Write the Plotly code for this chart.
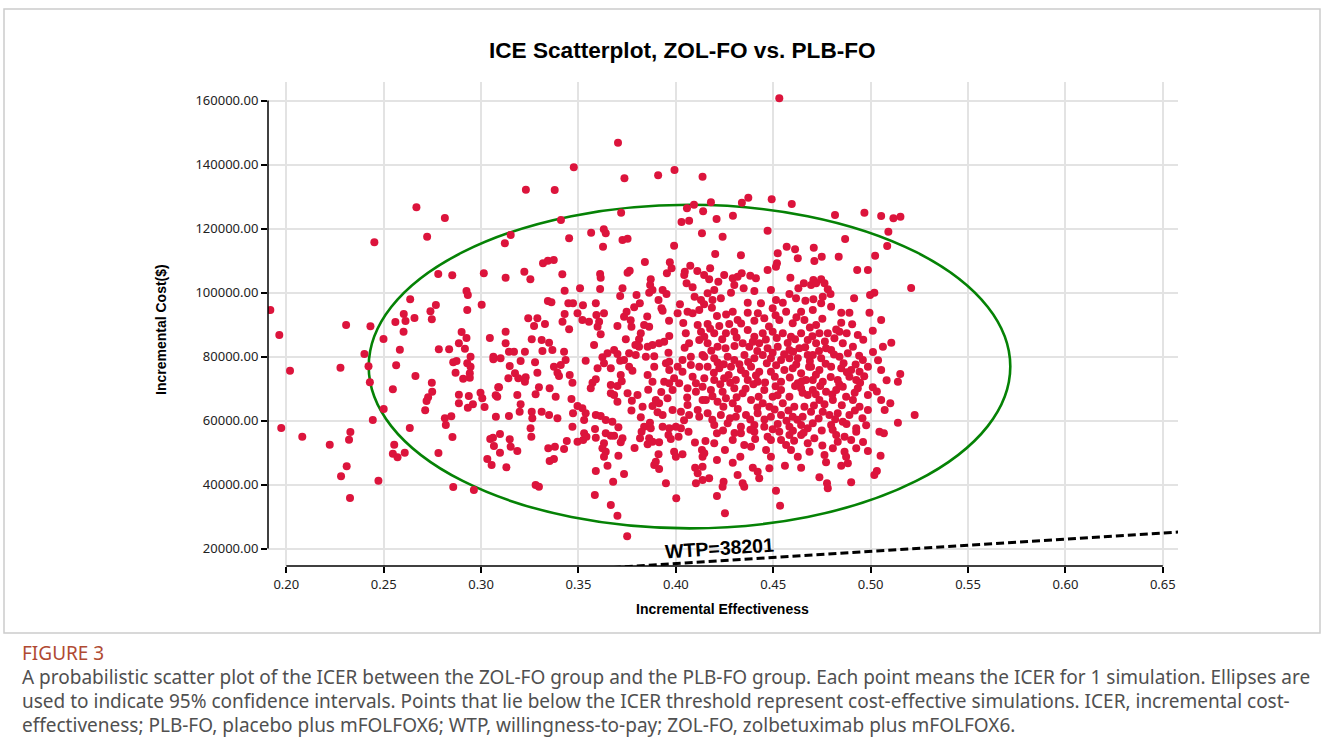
import plotly.graph_objects as go

# ---------------- data ----------------
chart_title = "ICE Scatterplot, ZOL-FO vs. PLB-FO"
x_title = "Incremental Effectiveness"
y_title = "Incremental Cost($)"
x_ticks = [0.20, 0.25, 0.30, 0.35, 0.40, 0.45, 0.50, 0.55, 0.60, 0.65]
y_ticks = [20000, 40000, 60000, 80000, 100000, 120000, 140000, 160000]
wtp = 38201
wtp_label = "WTP=38201"
wtp_eff_span = [0.30, 0.70]
ellipse_eff = [0.2423, 0.5717]
ellipse_cost = [26300, 127400]

eff_a = [0.2668, 0.2814, 0.2723, 0.2452, 0.2780, 0.2852, 0.3014, 0.2925, 0.2932, 0.2636,
         0.2768, 0.3003, 0.2929, 0.2740, 0.2603, 0.2658, 0.1918]
cost_a = [126620, 123280, 117440, 115690, 105780, 105370, 106000, 100470, 99220, 97870,
          96090, 96190, 94530, 94120, 93280, 92030, 94530]

eff_b = [0.1964, 0.2019, 0.1974, 0.2082, 0.2223, 0.2307, 0.2432, 0.2278, 0.2401, 0.2422,
         0.2429, 0.2499, 0.2500, 0.2444, 0.2329, 0.2322, 0.2310, 0.2281, 0.2473, 0.2327,
         0.2560, 0.2612, 0.2747, 0.2602, 0.2583, 0.2564, 0.2663, 0.2547, 0.2747, 0.2749,
         0.2728, 0.2720, 0.2713, 0.2634, 0.2554, 0.2547, 0.2571, 0.2608, 0.2781, 0.2853,
         0.2857, 0.2963, 0.2783, 0.2836, 0.2900, 0.2925, 0.2886, 0.2917, 0.3045, 0.2857,
         0.2874, 0.2869, 0.2929, 0.2946, 0.2946, 0.2942, 0.2942, 0.2908, 0.3063, 0.3063,
         0.3088, 0.3075, 0.2886, 0.2937, 0.2886, 0.2932, 0.2958, 0.2997, 0.3006, 0.3018,
         0.3076, 0.2814, 0.2847, 0.2819, 0.3047, 0.3061, 0.3066, 0.3032, 0.3054, 0.3097,
         0.3097]
cost_b = [86720, 75560, 57660, 54940, 52440, 89840, 89440, 76500, 80780, 76940,
          71940, 85470, 63590, 60160, 56410, 54000, 45690, 42560, 41190, 35780,
          90780, 91090, 91620, 87750, 82120, 77250, 73910, 69750, 71810, 69000,
          67250, 66090, 63190, 57660, 52440, 49630, 48500, 49940, 49840, 54840,
          39220, 38280, 82250, 82250, 87660, 85780, 84120, 82440, 85780, 78190,
          78590, 74940, 77870, 79940, 76810, 74750, 73380, 73060, 79940, 79120,
          70370, 67870, 68060, 67660, 65370, 64000, 65060, 68690, 66940, 64220,
          61190, 60690, 61310, 58590, 54220, 54620, 52030, 47970, 46090, 55780,
          49940]

eff_c = [0.3703, 0.3476, 0.3230, 0.3378, 0.3736, 0.3909, 0.3993, 0.4137, 0.3410, 0.3719,
         0.4057, 0.4093, 0.4140, 0.4029, 0.4068, 0.3152, 0.3122, 0.3452, 0.3565, 0.3630,
         0.3640, 0.3626, 0.3726, 0.3752, 0.4134, 0.3991, 0.3126, 0.3222, 0.3253, 0.3318,
         0.3343, 0.3373, 0.3417, 0.3429, 0.3343, 0.3361, 0.3448, 0.3472, 0.3508, 0.3523,
         0.3589, 0.3611, 0.3614, 0.3611, 0.3841, 0.3752, 0.3763, 0.3726, 0.3714, 0.3798,
         0.3815, 0.3871, 0.3868, 0.3863, 0.3880, 0.3911, 0.3932, 0.3952, 0.3954, 0.3969,
         0.3978, 0.3926, 0.4021, 0.4046, 0.4074, 0.4043, 0.4110, 0.4055, 0.4086, 0.4145,
         0.4096, 0.4129, 0.4145]
cost_c = [146810, 139120, 132120, 132030, 135690, 136620, 138280, 136190, 122660, 124940,
          126310, 127440, 125370, 122030, 122440, 117970, 115370, 116940, 118690, 119750,
          118500, 114310, 116410, 116810, 118500, 114620, 104620, 106500, 104120, 109120,
          109940, 110160, 105690, 100560, 97340, 96940, 96620, 96620, 101310, 96000,
          96620, 105780, 104620, 101090, 109530, 106190, 106810, 101310, 98900, 99220,
          96620, 104120, 102340, 99940, 100780, 97660, 100780, 99530, 106000, 109440,
          107560, 95060, 96310, 106500, 108370, 105470, 106720, 102870, 101620, 105470,
          98690, 97660, 96310]

eff_d = [0.3242, 0.3289, 0.3272, 0.3328, 0.3429, 0.3418, 0.3452, 0.3495, 0.3520, 0.3554,
         0.3592, 0.3631, 0.3606, 0.3598, 0.3614, 0.3126, 0.3700, 0.3734, 0.3747, 0.3786,
         0.3772, 0.3837, 0.3863, 0.3932, 0.4009, 0.4060, 0.4086, 0.4120, 0.4112, 0.3966,
         0.3940, 0.3914, 0.3880, 0.3855, 0.3820, 0.3811, 0.3811, 0.3743, 0.3126, 0.3143,
         0.3169, 0.3225, 0.3260, 0.3311, 0.3349, 0.3366, 0.3315, 0.3426, 0.3434, 0.3409,
         0.3203, 0.3277, 0.3147, 0.3100, 0.3174, 0.3191, 0.3229, 0.3225, 0.3140, 0.3289,
         0.3374, 0.3392, 0.3400, 0.3455, 0.3469, 0.3297, 0.3352, 0.3280, 0.3186, 0.3092,
         0.3083, 0.3203, 0.3198, 0.3260, 0.3311, 0.3383, 0.3349, 0.3392, 0.3464, 0.3495,
         0.3472, 0.3520, 0.3537, 0.3529, 0.3589, 0.3614, 0.3263, 0.3143, 0.3537, 0.3580,
         0.3572, 0.3563, 0.3589, 0.3598, 0.3623, 0.3649, 0.3631, 0.3666, 0.3683, 0.3700,
         0.3714, 0.3734, 0.3760, 0.3760, 0.3777, 0.3717, 0.3666, 0.3666, 0.3700, 0.3683,
         0.3700, 0.3752, 0.3774, 0.3803, 0.3855, 0.3846, 0.3880, 0.3889, 0.3940, 0.3949,
         0.3966, 0.3991, 0.4009, 0.4034, 0.4077, 0.4086, 0.4103, 0.4060, 0.4103, 0.4137,
         0.3966, 0.3983, 0.4017, 0.3957, 0.3914, 0.3880, 0.3897, 0.3829, 0.3820, 0.3932,
         0.3983, 0.4026, 0.4060, 0.4068, 0.4112, 0.4120, 0.4137, 0.4120, 0.4137, 0.4077,
         0.4034, 0.3966, 0.4068, 0.4120, 0.4051, 0.4129, 0.3794, 0.3837, 0.4026, 0.4000,
         0.3469, 0.3640, 0.3674]
cost_d = [91940, 91940, 89530, 90160, 93280, 90880, 88500, 93500, 91410, 90880,
          92970, 93500, 90880, 89310, 86940, 87750, 89530, 92440, 94000, 95370,
          89310, 89840, 89310, 94310, 93500, 94000, 93500, 94530, 89840, 86410,
          84620, 84120, 83590, 83060, 87250, 85370, 83060, 85370, 84120, 81500,
          81500, 81500, 85370, 85160, 84310, 82030, 81720, 81500, 78910, 77340,
          78590, 78190, 77030, 79440, 74750, 73190, 73500, 72120, 73190, 74940,
          76810, 74940, 73910, 74220, 71810, 70370, 70060, 68190, 67970, 70370,
          67440, 65060, 62750, 62750, 62750, 67440, 61720, 60690, 66720, 64530,
          62250, 63810, 62250, 60160, 61720, 61410, 60690, 61410, 78690, 83590,
          71810, 70060, 72870, 76310, 79750, 81000, 77870, 76310, 82030, 80780,
          78690, 78910, 81000, 76810, 75560, 74220, 71090, 68500, 70780, 67970,
          65880, 68500, 66190, 67970, 74220, 79940, 72120, 76810, 72120, 77870,
          75780, 73190, 76810, 75250, 77340, 73690, 71620, 70060, 69000, 70560,
          71620, 69530, 71620, 66940, 65370, 64530, 66410, 64310, 61000, 61720,
          63280, 62750, 64840, 61720, 63280, 61190, 66410, 76810, 80470, 79940,
          78910, 78380, 84120, 85160, 87250, 87750, 80470, 58060, 57560, 58060,
          58060, 60160, 59630]

eff_e = [0.3147, 0.3152, 0.3186, 0.3130, 0.3254, 0.3258, 0.3280, 0.3297, 0.3345, 0.3379,
         0.3352, 0.3374, 0.3426, 0.3440, 0.3495, 0.3524, 0.3529, 0.3541, 0.3585, 0.3589,
         0.3640, 0.3666, 0.3683, 0.3631, 0.3623, 0.3640, 0.3631, 0.3649, 0.3589, 0.3726,
         0.3717, 0.3705, 0.3678, 0.3734, 0.3584, 0.3666, 0.3700, 0.3750, 0.3824, 0.3816,
         0.3863, 0.3855, 0.3880, 0.3914, 0.3871, 0.3932, 0.3966, 0.3974, 0.4014, 0.4065,
         0.3911, 0.3889, 0.3914, 0.3897, 0.3991, 0.4000, 0.4034, 0.3949, 0.4002, 0.4099,
         0.4112, 0.4103, 0.4137, 0.4137, 0.4134]
cost_e = [54120, 51810, 50470, 45380, 57560, 54940, 39840, 39310, 51310, 51810,
          47340, 47970, 51090, 53590, 53380, 53910, 56000, 54940, 57340, 54620,
          56000, 55250, 55250, 52880, 51310, 50250, 48690, 45880, 44220, 54440,
          53190, 49000, 40880, 43280, 36720, 33590, 30250, 23810, 56500, 54440,
          54440, 52560, 53380, 53190, 57560, 58060, 57560, 54220, 54940, 56500,
          49440, 46090, 44840, 47120, 50250, 48690, 49440, 40380, 35690, 45250,
          43500, 40380, 48690, 41410, 50780]

eff_f = [0.4531, 0.4180, 0.4339, 0.4372, 0.4492, 0.4595, 0.4209, 0.4293, 0.4240, 0.4471,
         0.4817, 0.4968, 0.5054, 0.5117, 0.5153, 0.5091, 0.5085, 0.4869, 0.5023, 0.4836,
         0.4931, 0.4986, 0.5208, 0.5019, 0.4997, 0.4915, 0.4202, 0.4334, 0.4523, 0.4569,
         0.4612, 0.4626, 0.4708, 0.4749, 0.4711, 0.4519, 0.4514, 0.4471, 0.4176, 0.4171,
         0.4218, 0.4248, 0.4292, 0.4317, 0.4338, 0.4300, 0.4348, 0.4382, 0.4411, 0.4403,
         0.4488, 0.4588, 0.4629, 0.4657, 0.4694, 0.4706, 0.4720, 0.4746, 0.4763, 0.4780,
         0.4794, 0.4754, 0.4706, 0.4665, 0.4617, 0.4583, 0.4549, 0.4514, 0.4437, 0.4369,
         0.4283, 0.4231, 0.4197, 0.4163, 0.4188]
cost_f = [160690, 128190, 128060, 129620, 129120, 127660, 122970, 124000, 117440, 119310,
          124220, 124940, 123910, 123190, 123690, 119000, 114530, 116720, 111500, 111190,
          107030, 107030, 101410, 99940, 99220, 98190, 112030, 111620, 112250, 114310,
          113500, 110690, 114000, 111190, 109840, 109120, 108060, 107030, 107560, 104120,
          103380, 105470, 104440, 104940, 106000, 102340, 101310, 105250, 104440, 100470,
          100780, 104620, 101310, 102870, 102340, 103910, 102870, 104120, 102870, 101000,
          99530, 98690, 97870, 97440, 98190, 99530, 96810, 97660, 96620, 96810,
          99940, 98190, 100780, 99750, 97660]

eff_g = [0.4292, 0.4369, 0.4497, 0.4566, 0.4643, 0.4211, 0.4163, 0.4223, 0.4274, 0.4317,
         0.4403, 0.4454, 0.4531, 0.4600, 0.4660, 0.4197, 0.4146, 0.4257, 0.4300, 0.4369,
         0.4403, 0.4446, 0.4497, 0.4549, 0.4591, 0.4643, 0.4677, 0.4163, 0.4214, 0.4343,
         0.4377, 0.4428, 0.4471, 0.4523, 0.4583, 0.4634, 0.4146, 0.4197, 0.4266, 0.4300,
         0.4352, 0.4403, 0.4446, 0.4488, 0.4540, 0.4583, 0.4626, 0.4677, 0.4163, 0.4223,
         0.4283, 0.4334, 0.4386, 0.4428, 0.4488, 0.4557, 0.4600, 0.4643, 0.4684, 0.4146,
         0.4197, 0.4248, 0.4308, 0.4369, 0.4420, 0.4540, 0.4626, 0.4668, 0.4180, 0.4240,
         0.4300, 0.4343, 0.4454, 0.4497, 0.4540, 0.4583, 0.4643, 0.4677, 0.4154, 0.4214,
         0.4257, 0.4292, 0.4386, 0.4446, 0.4480, 0.4549, 0.4608, 0.4660, 0.4163, 0.4231,
         0.4308, 0.4360, 0.4420, 0.4488, 0.4540, 0.4600, 0.4651, 0.4197, 0.4266, 0.4334,
         0.4403, 0.4454, 0.4523, 0.4583, 0.4643, 0.4677]
cost_g = [94000, 93690, 95060, 94000, 94000, 92660, 90160, 89530, 90160, 91410,
          91190, 91940, 91410, 90380, 91410, 87250, 86190, 87250, 87750, 88280,
          86190, 87250, 87750, 87250, 86190, 87250, 85160, 84120, 83060, 84120,
          83060, 84120, 82560, 83060, 82030, 82560, 79940, 79440, 79940, 78910,
          80470, 79440, 80470, 79440, 78910, 79440, 79440, 80470, 76810, 76310,
          76810, 75780, 76810, 75250, 75250, 75780, 76310, 74750, 76810, 73190,
          72660, 73190, 72660, 72660, 72120, 72120, 71620, 72660, 69530, 69000,
          70060, 68500, 69530, 67440, 69530, 67440, 70060, 67970, 66410, 65880,
          66940, 65370, 66410, 65370, 64310, 65370, 64310, 64310, 62250, 61720,
          61190, 61720, 62250, 61190, 61720, 61190, 61190, 58590, 59120, 58060,
          58590, 58060, 58910, 58060, 58590, 57560]

eff_h = [0.4746, 0.4797, 0.4849, 0.4891, 0.4994, 0.5054, 0.5011, 0.4934, 0.4849, 0.4840,
         0.4703, 0.4720, 0.4737, 0.4780, 0.4814, 0.4857, 0.4909, 0.4720, 0.4771, 0.4797,
         0.4703, 0.4746, 0.4840, 0.4883, 0.4960, 0.5063, 0.5106, 0.4694, 0.4737, 0.4797,
         0.4849, 0.4900, 0.4943, 0.4986, 0.5054, 0.5152, 0.5140, 0.4703, 0.4754, 0.4831,
         0.4891, 0.4926, 0.4934, 0.5011, 0.4703, 0.4771, 0.4823, 0.4857, 0.4874, 0.4986,
         0.5054, 0.4737, 0.4806, 0.4909, 0.4943, 0.4986, 0.5072, 0.5140, 0.5226, 0.4694,
         0.4754, 0.4788, 0.4831, 0.4891, 0.4703, 0.4797, 0.4857, 0.4926]
cost_h = [96620, 95560, 93690, 93690, 93690, 91410, 88060, 86720, 90560, 87750,
          94530, 89840, 87250, 87250, 85690, 84120, 83060, 84120, 82560, 82030,
          80470, 79440, 79940, 81000, 78910, 83060, 84310, 76810, 75780, 76810,
          76310, 75780, 75250, 76810, 75780, 74530, 72120, 72660, 72120, 72660,
          73690, 72660, 70060, 70370, 69530, 69000, 69530, 70560, 67440, 67970,
          66410, 66410, 66410, 66410, 64310, 63280, 63280, 59310, 61720, 62750,
          62750, 61720, 62250, 61720, 59120, 58590, 59630, 57560]

eff_i = [0.4211, 0.4197, 0.4146, 0.4137, 0.4171, 0.4211, 0.4252, 0.4245, 0.4240, 0.4252,
         0.4292, 0.4211, 0.4292, 0.4331, 0.4317, 0.4343, 0.4351, 0.4351, 0.4386, 0.4334,
         0.4403, 0.4395, 0.4420, 0.4428, 0.4471, 0.4488, 0.4463, 0.4488, 0.4480, 0.4531,
         0.4540, 0.4566, 0.4583, 0.4591, 0.4626, 0.4560, 0.4514, 0.4535, 0.4643, 0.4643,
         0.4677, 0.4686, 0.4711, 0.4763, 0.4771, 0.4737, 0.4776, 0.4780, 0.4806, 0.4823,
         0.4831, 0.4866, 0.4849, 0.4883, 0.4874, 0.4866, 0.4900, 0.4926, 0.4900, 0.4926,
         0.4986, 0.5019, 0.5032, 0.5045, 0.5051, 0.5068]
cost_i = [56000, 52880, 49750, 45560, 41940, 36410, 31000, 40880, 39310, 50780,
          53910, 47660, 46810, 48690, 42970, 40380, 39310, 52340, 51810, 56000,
          56500, 45250, 44000, 41940, 54940, 53910, 50780, 48690, 45060, 56500,
          53910, 52340, 55470, 50780, 48690, 45880, 38060, 33380, 45250, 55470,
          52880, 50250, 54440, 49220, 46940, 42250, 40380, 38810, 51310, 55470,
          53380, 50250, 45880, 46620, 48690, 54940, 53910, 51310, 40690, 56500,
          50470, 42970, 44220, 56500, 49000, 56000]

# points hidden in the densest overlapping core (estimated)
eff_j = [0.4185, 0.4258, 0.4335, 0.4421, 0.4478, 0.4512, 0.4619, 0.4688, 0.4752, 0.4823, 0.4905, 0.4962,
         0.4176, 0.4238, 0.4312, 0.4395, 0.4462, 0.4518, 0.4574, 0.4612, 0.4701, 0.4765, 0.4877,
         0.4182, 0.4255, 0.4301, 0.4418, 0.4497, 0.4556, 0.4602, 0.4664, 0.4735, 0.4812, 0.4941, 0.5012,
         0.4214, 0.4246, 0.4326, 0.4371, 0.4467, 0.4515, 0.4618, 0.4688, 0.4769, 0.4861, 0.4923, 0.5038,
         0.4195, 0.4271, 0.4357, 0.4411, 0.4508, 0.4585, 0.4647, 0.4719, 0.4795, 0.4878, 0.4967,
         0.4228, 0.4279, 0.4398, 0.4458, 0.4512, 0.4612, 0.4741, 0.4839, 0.4946, 0.5082,
         0.4188, 0.4312, 0.4358, 0.4425, 0.4522, 0.4651, 0.4718, 0.4803, 0.4918, 0.5032,
         0.4244, 0.4318, 0.4418, 0.4507, 0.4578, 0.4709, 0.4763, 0.4852, 0.4919, 0.5101,
         0.4187, 0.4278, 0.4382, 0.4455, 0.4568, 0.4624, 0.4733, 0.4818, 0.4876, 0.4958,
         0.4242, 0.4301, 0.4383, 0.4497, 0.4601, 0.4656, 0.4749, 0.4805, 0.4977,
         0.4152, 0.4407, 0.4607, 0.4752, 0.4961]
cost_j = [95200, 93100, 90300, 93500, 89400, 92900, 92300, 89100, 91800, 88400, 90100, 85200,
          88700, 85400, 85900, 84600, 85300, 85800, 84200, 85400, 86300, 84700, 87300,
          81800, 82600, 83300, 81700, 81200, 80700, 81500, 82900, 81700, 80600, 80200, 81400,
          78100, 77600, 77600, 78300, 77900, 77300, 77500, 78600, 77700, 77900, 77500, 78800,
          74900, 74200, 74600, 74100, 73700, 73400, 72300, 74300, 73600, 75100, 73800,
          71300, 71800, 71300, 71900, 70700, 70800, 70800, 71300, 71800, 72600,
          67600, 67300, 69900, 67400, 67900, 68700, 68200, 68100, 68700, 69100,
          64300, 63600, 64100, 63400, 63100, 64700, 65100, 64800, 63100, 65400,
          60200, 60700, 60300, 60300, 59900, 60200, 60600, 60400, 58900, 60700,
          56900, 56100, 57100, 57300, 56800, 56200, 56900, 57100, 58500,
          53600, 54200, 53700, 52200, 53300]

eff_k = [0.3768, 0.3853, 0.3965, 0.4038, 0.3792, 0.3962, 0.4045, 0.3889, 0.3722, 0.3858,
         0.4058, 0.3925, 0.3772, 0.3906, 0.4042, 0.3867, 0.3705, 0.3962, 0.4098, 0.3788]
cost_k = [91300, 92500, 91200, 90500, 83600, 81200, 82700, 80100, 72300, 69600,
          67200, 68900, 63100, 62600, 60100, 59300, 57900, 55500, 53100, 51400]

eff_groups = [eff_a, eff_b, eff_c, eff_d, eff_e, eff_f, eff_g, eff_h, eff_i, eff_j, eff_k]
cost_groups = [cost_a, cost_b, cost_c, cost_d, cost_e, cost_f, cost_g, cost_h, cost_i, cost_j, cost_k]
for e_list, c_list in zip(eff_groups, cost_groups):
    assert len(e_list) == len(c_list), (len(e_list), len(c_list))
effectiveness = [v for g in eff_groups for v in g]
incremental_cost = [v for g in cost_groups for v in g]

caption_label = "FIGURE 3"
caption_lines = [
    "A probabilistic scatter plot of the ICER between the ZOL-FO group and the PLB-FO group. Each point means the ICER for 1 simulation. Ellipses are",
    "used to indicate 95% confidence intervals. Points that lie below the ICER threshold represent cost-effective simulations. ICER, incremental cost-",
    "effectiveness; PLB-FO, placebo plus mFOLFOX6; WTP, willingness-to-pay; ZOL-FO, zolbetuximab plus mFOLFOX6.",
]

# ---------------- layout geometry ----------------
W, H = 1328, 754
L, R, T, B = 268, 1178, 82, 566
x_range = [0.1906, 0.6578]
y_range = [14530, 165780]


def px(xp):
    return (xp - L) / (R - L)


def py(yp):
    return (B - yp) / (B - T)


def xpaper(v):
    return (v - x_range[0]) / (x_range[1] - x_range[0])


def ypaper(v):
    return (v - y_range[0]) / (y_range[1] - y_range[0])


fig = go.Figure()

fig.add_trace(go.Scatter(
    x=wtp_eff_span, y=[wtp * e for e in wtp_eff_span], mode="lines",
    line=dict(color="black", width=3, dash="8px,4px"), hoverinfo="skip"))

fig.add_trace(go.Scatter(
    x=effectiveness, y=incremental_cost, mode="markers",
    marker=dict(size=8, color="#DC143C", line=dict(width=0)), hoverinfo="skip"))

tick_font = dict(family="Noto Sans, Open Sans, sans-serif", size=13, color="#222222")
fig.update_xaxes(range=x_range, tickvals=x_ticks, tickformat=".2f", showgrid=True,
                 gridcolor="#e3e3e3", gridwidth=1.5, ticks="outside", ticklen=6,
                 tickwidth=1.5, tickcolor="black", showline=False, zeroline=False,
                 tickfont=tick_font)
fig.update_yaxes(range=y_range, tickvals=y_ticks, tickformat=".2f", showgrid=True,
                 gridcolor="#e3e3e3", gridwidth=1.5, ticks="outside", ticklen=6,
                 tickwidth=1.5, tickcolor="black", showline=False, zeroline=False,
                 tickfont=tick_font)

shapes = [
    # outer frame
    dict(type="rect", xref="paper", yref="paper", x0=px(4), x1=px(1320), y0=py(633), y1=py(9),
         line=dict(color="#cccccc", width=1.5), fillcolor="rgba(0,0,0,0)", layer="below"),
    # confidence ellipse
    dict(type="circle", xref="x", yref="y", x0=ellipse_eff[0], x1=ellipse_eff[1],
         y0=ellipse_cost[0], y1=ellipse_cost[1], line=dict(color="#058205", width=2.6),
         layer="between"),
    # axis lines spanning the tick range
    dict(type="line", xref="paper", yref="paper", x0=0, x1=0,
         y0=ypaper(y_ticks[0]), y1=ypaper(y_ticks[-1]), line=dict(color="black", width=1.5)),
    dict(type="line", xref="paper", yref="paper", x0=xpaper(x_ticks[0]), x1=xpaper(x_ticks[-1]),
         y0=0, y1=0, line=dict(color="black", width=1.5)),
]

bold = "Liberation Sans, Arial, sans-serif"
cap_font = "Noto Sans, Open Sans, sans-serif"
annotations = [
    dict(text="<b>" + chart_title + "</b>", x=px(682), y=py(51), xref="paper", yref="paper",
         showarrow=False, xanchor="center", yanchor="middle", font=dict(family=bold, size=22.6, color="black")),
    dict(text="<b>" + x_title + "</b>", x=px(722), y=py(609), xref="paper", yref="paper",
         showarrow=False, xanchor="center", yanchor="middle", font=dict(family=bold, size=14, color="black")),
    dict(text="<b>" + y_title + "</b>", x=px(161), y=py(330), xref="paper", yref="paper",
         showarrow=False, xanchor="center", yanchor="middle", textangle=-90,
         font=dict(family=bold, size=14, color="black")),
    dict(text="<b>" + wtp_label + "</b>", x=px(719), y=py(548), xref="paper", yref="paper",
         showarrow=False, xanchor="center", yanchor="middle", textangle=-3.6,
         font=dict(family=bold, size=19.5, color="black")),
    dict(text=caption_label, x=px(20), y=py(653), xref="paper", yref="paper",
         showarrow=False, xanchor="left", yanchor="middle",
         font=dict(family=cap_font, size=19, color="#b04a32")),
]
for i, line in enumerate(caption_lines):
    annotations.append(dict(text=line, x=px(20), y=py(677 + 24 * i), xref="paper", yref="paper",
                            showarrow=False, xanchor="left", yanchor="middle",
                            font=dict(family=cap_font, size=19, color="#505050")))

fig.update_layout(
    width=W, height=H, margin=dict(l=L, r=W - R, t=T, b=H - B, pad=0),
    paper_bgcolor="white", plot_bgcolor="white", showlegend=False, hovermode=False,
    shapes=shapes, annotations=annotations,
)

fig.write_html("out.html", config={"displayModeBar": False},
               post_script="document.body.style.margin='0';document.body.style.overflow='hidden';")
